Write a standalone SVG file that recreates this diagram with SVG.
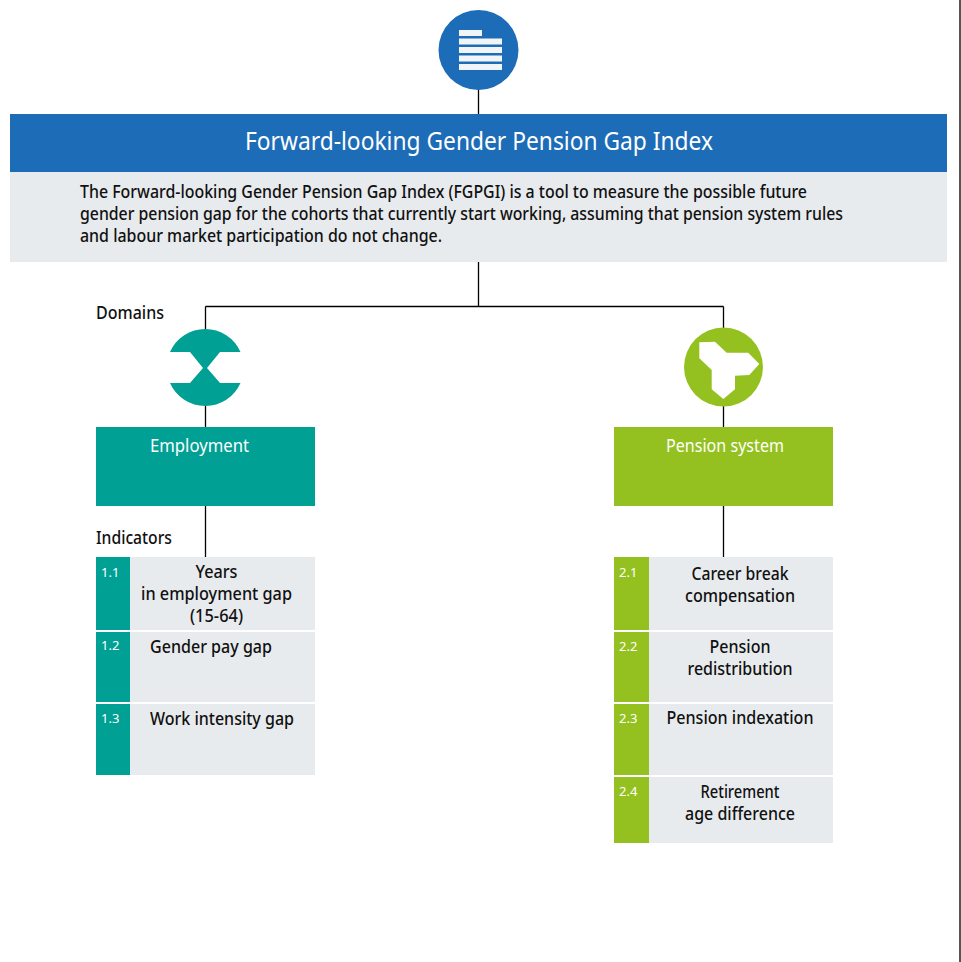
<svg xmlns="http://www.w3.org/2000/svg" width="961" height="962" viewBox="0 0 961 962">
<style>
text{font-family:"Noto Sans","Open Sans","Liberation Sans",sans-serif;fill:#111;font-size:17.500px;font-weight:500}
.c{text-anchor:middle}
text.w{fill:#fff;font-weight:400}
text.n{fill:#fff;font-size:13px;font-weight:400}
.l{stroke:#000;stroke-width:1.300;fill:none}
.g{fill:#e8ebee}.t{fill:#00a094}.v{fill:#94c11f}.b{fill:#1c6cb7}
.i{fill:#f2f5f8}
</style>
<rect width="961" height="962" fill="#fff"/>
<rect x="959" y="0" width="2" height="962" fill="#555"/>
<g id="connectors">
<path class="l" d="M478.500 88V114M478.500 262V306.500M205.500 306.500H723.500M205.500 306.500V330M723.500 306.500V330M205.500 404V428M723.500 404V428M205.500 505V557M723.500 505V557"/>
</g>
<g id="root-icon">
<circle class="b" cx="478.500" cy="50" r="40"/>
<rect class="i" x="459" y="30" width="23" height="6"/>
<rect class="i" x="459" y="38.500" width="43" height="6"/>
<rect class="i" x="459" y="47" width="43" height="6"/>
<rect class="i" x="459" y="55.500" width="43" height="6"/>
<rect class="i" x="459" y="64" width="43" height="6"/>
</g>
<g id="title">
<rect class="b" x="10" y="114" width="937" height="58"/>
<text class="w" x="245" y="150" style="font-size:24.500px" textLength="468" lengthAdjust="spacingAndGlyphs">Forward-looking Gender Pension Gap Index</text>
</g>
<g id="description">
<rect class="g" x="10" y="172" width="937" height="90"/>
<text x="80" y="198" textLength="727" lengthAdjust="spacingAndGlyphs">The Forward-looking Gender Pension Gap Index (FGPGI) is a tool to measure the possible future</text>
<text x="80" y="220" textLength="763" lengthAdjust="spacingAndGlyphs">gender pension gap for the cohorts that currently start working, assuming that pension system rules</text>
<text x="80" y="242" textLength="362" lengthAdjust="spacingAndGlyphs">and labour market participation do not change.</text>
</g>
<text x="96" y="319" textLength="68" lengthAdjust="spacingAndGlyphs">Domains</text>
<text x="96" y="544" textLength="76" lengthAdjust="spacingAndGlyphs">Indicators</text>
<g id="employment-icon">
<path class="t" d="M170 352A38.500 38.500 0 0 1 240.500 352H220L207 368L220 383H240.500A38.500 38.500 0 0 1 170 383H190L203 368L190 352Z"/>
</g>
<g id="pension-icon">
<circle class="v" cx="723.500" cy="367" r="39.500"/>
<polygon fill="#fff" points="699.300,342.300 715,341.700 726.700,352.700 748.300,352.700 759.300,364 749.300,375 735,375.700 735,389.300 723.300,399 711.700,389.300 711.700,370 699.300,358.300"/>
</g>
<g id="employment">
<rect class="t" x="96" y="427" width="219" height="79"/>
<text class="w c" x="199.500" y="452" textLength="99" lengthAdjust="spacingAndGlyphs">Employment</text>
</g>
<g id="pension-system">
<rect class="v" x="614" y="427" width="219" height="79"/>
<text class="w c" x="725" y="452" textLength="118" lengthAdjust="spacingAndGlyphs">Pension system</text>
</g>
<g id="ind-1-1">
<rect class="g" x="96" y="557" width="219" height="73"/><rect class="t" x="96" y="557" width="34" height="73"/>
<text class="n" x="101" y="577">1.1</text>
<text class="c" x="216.500" y="578" textLength="42" lengthAdjust="spacingAndGlyphs">Years</text>
<text class="c" x="216.500" y="600" textLength="151" lengthAdjust="spacingAndGlyphs">in employment gap</text>
<text class="c" x="216.500" y="622" textLength="53" lengthAdjust="spacingAndGlyphs">(15-64)</text>
</g>
<g id="ind-1-2">
<rect class="g" x="96" y="632" width="219" height="70"/><rect class="t" x="96" y="632" width="34" height="70"/>
<text class="n" x="101" y="650">1.2</text>
<text class="c" x="211" y="653" textLength="122" lengthAdjust="spacingAndGlyphs">Gender pay gap</text>
</g>
<g id="ind-1-3">
<rect class="g" x="96" y="704" width="219" height="71"/><rect class="t" x="96" y="704" width="34" height="71"/>
<text class="n" x="101" y="723">1.3</text>
<text class="c" x="222" y="725" textLength="144" lengthAdjust="spacingAndGlyphs">Work intensity gap</text>
</g>
<g id="ind-2-1">
<rect class="g" x="614" y="557" width="219" height="73"/><rect class="v" x="614" y="557" width="35" height="73"/>
<text class="n" x="619" y="577">2.1</text>
<text class="c" x="740" y="580" textLength="97" lengthAdjust="spacingAndGlyphs">Career break</text>
<text class="c" x="740" y="602" textLength="110" lengthAdjust="spacingAndGlyphs">compensation</text>
</g>
<g id="ind-2-2">
<rect class="g" x="614" y="632" width="219" height="70"/><rect class="v" x="614" y="632" width="35" height="70"/>
<text class="n" x="619" y="651">2.2</text>
<text class="c" x="740" y="653" textLength="61" lengthAdjust="spacingAndGlyphs">Pension</text>
<text class="c" x="740" y="675" textLength="105" lengthAdjust="spacingAndGlyphs">redistribution</text>
</g>
<g id="ind-2-3">
<rect class="g" x="614" y="704" width="219" height="71"/><rect class="v" x="614" y="704" width="35" height="71"/>
<text class="n" x="619" y="723">2.3</text>
<text class="c" x="740" y="724" textLength="147" lengthAdjust="spacingAndGlyphs">Pension indexation</text>
</g>
<g id="ind-2-4">
<rect class="g" x="614" y="777" width="219" height="66"/><rect class="v" x="614" y="777" width="35" height="66"/>
<text class="n" x="619" y="796">2.4</text>
<text class="c" x="740" y="798" textLength="79" lengthAdjust="spacingAndGlyphs">Retirement</text>
<text class="c" x="740" y="820" textLength="110" lengthAdjust="spacingAndGlyphs">age difference</text>
</g>
</svg>
